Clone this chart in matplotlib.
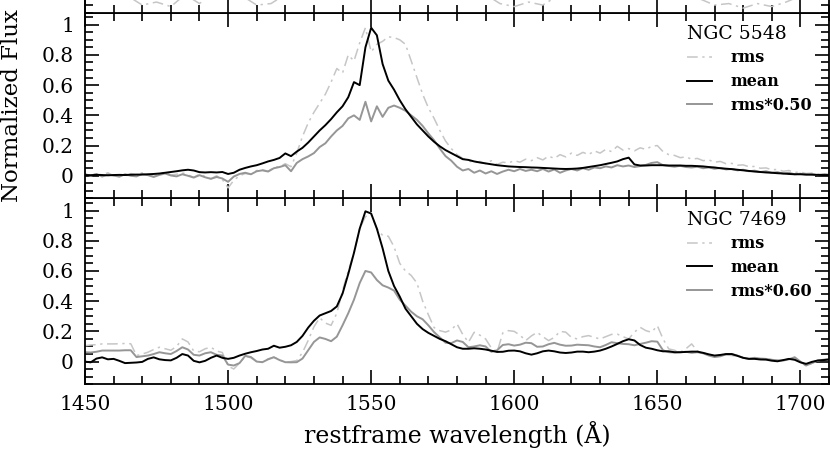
import numpy as np
import matplotlib
matplotlib.use("Agg")
import matplotlib.pyplot as plt
from matplotlib.ticker import MultipleLocator, FuncFormatter

plt.rcParams['font.family'] = ['DejaVu Serif']

# wavelength grid (2 A steps) shared by the two full panels
wave = np.arange(1450, 1711, 2)

# NGC 5548
n5548_mean = [
    0.005, 0.004, 0.006, 0.005, 0.003, 0.005, 0.006, 0.005, 0.007, 0.008,
    0.008, 0.010, 0.012, 0.015, 0.020, 0.025, 0.030, 0.036, 0.040, 0.035,
    0.024, 0.022, 0.024, 0.022, 0.025, 0.012, 0.020, 0.040, 0.052, 0.062,
    0.070, 0.082, 0.095, 0.105, 0.118, 0.148, 0.130, 0.160, 0.185, 0.220,
    0.260, 0.300, 0.335, 0.375, 0.420, 0.460, 0.520, 0.620, 0.600, 0.850,
    0.980, 0.930, 0.740, 0.630, 0.570, 0.500, 0.440, 0.390, 0.340, 0.300,
    0.260, 0.225, 0.195, 0.170, 0.150, 0.130, 0.110, 0.105, 0.095, 0.088,
    0.082, 0.076, 0.070, 0.066, 0.062, 0.060, 0.058, 0.057, 0.055, 0.054,
    0.052, 0.050, 0.048, 0.046, 0.045, 0.046, 0.048, 0.052, 0.058, 0.064,
    0.070, 0.078, 0.086, 0.095, 0.110, 0.120, 0.075, 0.068, 0.068, 0.070,
    0.070, 0.070, 0.068, 0.068, 0.068, 0.066, 0.066, 0.064, 0.062, 0.058,
    0.055, 0.050, 0.047, 0.044, 0.040, 0.036, 0.032, 0.028, 0.025, 0.022,
    0.020, 0.017, 0.015, 0.012, 0.010, 0.010, 0.008, 0.007, 0.006, 0.005,
    0.005]
n5548_rms_scaled = [
    0.010, 0.000, 0.012, -0.005, 0.008, 0.002, -0.006, 0.010, 0.000, -0.004,
    0.012, 0.004, -0.008, 0.006, 0.015, 0.002, -0.004, 0.010, 0.000, -0.012,
    0.004, -0.010, -0.020, -0.008, -0.018, -0.040, -0.005, 0.012, 0.020, 0.010,
    0.030, 0.036, 0.028, 0.050, 0.058, 0.070, 0.030, 0.085, 0.110, 0.128,
    0.150, 0.190, 0.215, 0.260, 0.300, 0.330, 0.380, 0.400, 0.370, 0.490,
    0.360, 0.460, 0.390, 0.450, 0.465, 0.450, 0.430, 0.400, 0.370, 0.330,
    0.280, 0.235, 0.180, 0.130, 0.100, 0.060, 0.035, 0.045, 0.020, 0.035,
    0.015, 0.030, 0.012, 0.028, 0.040, 0.030, 0.045, 0.032, 0.040, 0.030,
    0.045, 0.028, 0.042, 0.020, 0.035, 0.045, 0.035, 0.050, 0.040, 0.055,
    0.050, 0.062, 0.055, 0.070, 0.062, 0.068, 0.058, 0.064, 0.072, 0.085,
    0.090, 0.070, 0.065, 0.060, 0.066, 0.058, 0.055, 0.060, 0.050, 0.055,
    0.046, 0.052, 0.042, 0.045, 0.036, 0.040, 0.030, 0.034, 0.025, 0.030,
    0.020, 0.024, 0.014, 0.020, 0.010, 0.014, 0.008, 0.012, 0.004, 0.010,
    0.006]
n5548_rms = [
    0.012, 0.000, 0.015, 0.005, 0.020, 0.000, 0.010, -0.005, 0.015, 0.005,
    0.020, 0.008, -0.004, 0.012, 0.025, 0.005, 0.010, 0.020, 0.005, -0.010,
    0.010, -0.005, -0.020, 0.000, -0.025, -0.080, -0.030, 0.000, 0.015, 0.010,
    0.035, 0.040, 0.030, 0.055, 0.060, 0.080, 0.060, 0.150, 0.260, 0.350,
    0.420, 0.480, 0.540, 0.620, 0.710, 0.680, 0.800, 0.760, 0.880, 0.980,
    0.820, 0.870, 0.890, 0.920, 0.915, 0.900, 0.870, 0.760, 0.650, 0.540,
    0.450, 0.380, 0.300, 0.230, 0.180, 0.140, 0.115, 0.100, 0.085, 0.095,
    0.080, 0.100, 0.075, 0.090, 0.085, 0.100, 0.090, 0.110, 0.100, 0.120,
    0.105, 0.130, 0.115, 0.140, 0.125, 0.150, 0.135, 0.155, 0.140, 0.165,
    0.150, 0.175, 0.160, 0.195, 0.170, 0.180, 0.165, 0.185, 0.175, 0.195,
    0.200, 0.160, 0.140, 0.135, 0.120, 0.125, 0.110, 0.115, 0.100, 0.105,
    0.090, 0.095, 0.080, 0.082, 0.070, 0.072, 0.060, 0.062, 0.050, 0.052,
    0.040, 0.042, 0.030, 0.035, 0.022, 0.025, 0.015, 0.018, 0.010, 0.014,
    0.008]

# NGC 7469
n7469_mean = [
    0.000, -0.005, 0.020, 0.028, 0.015, 0.018, 0.005, -0.010, -0.008, -0.006,
    -0.002, 0.018, 0.028, 0.015, 0.010, 0.008, 0.025, 0.050, 0.040, 0.005,
    -0.005, 0.005, 0.025, 0.040, 0.025, 0.018, 0.025, 0.040, 0.052, 0.062,
    0.070, 0.080, 0.085, 0.105, 0.092, 0.098, 0.108, 0.130, 0.170, 0.225,
    0.270, 0.305, 0.320, 0.335, 0.365, 0.450, 0.580, 0.720, 0.880, 0.995,
    0.980, 0.880, 0.750, 0.600, 0.500, 0.430, 0.350, 0.300, 0.250, 0.215,
    0.190, 0.170, 0.150, 0.135, 0.115, 0.095, 0.085, 0.085, 0.088, 0.085,
    0.080, 0.072, 0.064, 0.065, 0.072, 0.073, 0.068, 0.055, 0.046, 0.055,
    0.068, 0.073, 0.068, 0.060, 0.057, 0.060, 0.066, 0.066, 0.062, 0.066,
    0.073, 0.085, 0.100, 0.117, 0.135, 0.148, 0.140, 0.110, 0.092, 0.085,
    0.075, 0.068, 0.068, 0.062, 0.062, 0.064, 0.066, 0.066, 0.058, 0.048,
    0.040, 0.044, 0.050, 0.050, 0.038, 0.025, 0.018, 0.018, 0.014, 0.013,
    0.006, 0.002, 0.010, 0.018, 0.012, -0.005, -0.015, -0.002, 0.007, 0.010,
    0.013]
n7469_rms_scaled = [
    0.062, 0.060, 0.065, 0.073, 0.073, 0.073, 0.073, 0.075, 0.075, 0.030,
    0.035, 0.040, 0.050, 0.062, 0.055, 0.050, 0.070, 0.095, 0.080, 0.045,
    0.040, 0.055, 0.062, 0.045, 0.040, -0.020, -0.026, -0.010, 0.038, 0.030,
    0.000, -0.004, 0.015, 0.029, 0.010, -0.004, -0.005, -0.004, 0.020, 0.075,
    0.130, 0.160, 0.150, 0.135, 0.165, 0.240, 0.320, 0.410, 0.520, 0.600,
    0.590, 0.540, 0.505, 0.490, 0.470, 0.410, 0.370, 0.330, 0.300, 0.280,
    0.240, 0.195, 0.160, 0.125, 0.122, 0.140, 0.130, 0.095, 0.100, 0.108,
    0.100, 0.065, 0.075, 0.110, 0.115, 0.106, 0.112, 0.125, 0.122, 0.098,
    0.100, 0.115, 0.124, 0.112, 0.105, 0.106, 0.112, 0.110, 0.108, 0.100,
    0.095, 0.110, 0.128, 0.122, 0.117, 0.115, 0.108, 0.117, 0.125, 0.135,
    0.132, 0.075, 0.062, 0.060, 0.062, 0.065, 0.058, 0.062, 0.055, 0.040,
    0.030, 0.035, 0.048, 0.050, 0.040, 0.025, 0.018, 0.025, 0.020, 0.018,
    0.012, 0.008, 0.007, 0.015, 0.029, 0.000, -0.026, -0.010, 0.007, 0.012,
    0.018]
n7469_rms = [
    0.105, 0.110, 0.112, 0.117, 0.117, 0.117, 0.118, 0.120, 0.118, 0.040,
    0.050, 0.062, 0.080, 0.095, 0.085, 0.075, 0.100, 0.150, 0.130, 0.070,
    0.065, 0.085, 0.095, 0.070, 0.060, -0.030, -0.049, -0.010, 0.035, 0.025,
    0.000, -0.004, 0.018, 0.029, 0.012, -0.004, 0.000, 0.007, 0.060, 0.140,
    0.230, 0.290, 0.255, 0.240, 0.320, 0.470, 0.600, 0.720, 0.880, 0.960,
    0.975, 0.880, 0.835, 0.830, 0.760, 0.650, 0.600, 0.570, 0.520, 0.400,
    0.310, 0.225, 0.205, 0.195, 0.210, 0.250, 0.180, 0.128, 0.194, 0.175,
    0.150, 0.090, 0.062, 0.190, 0.205, 0.200, 0.175, 0.139, 0.170, 0.194,
    0.165, 0.139, 0.160, 0.200, 0.195, 0.160, 0.150, 0.165, 0.172, 0.160,
    0.150, 0.165, 0.180, 0.182, 0.165, 0.150, 0.195, 0.227, 0.205, 0.194,
    0.238, 0.150, 0.084, 0.075, 0.062, 0.085, 0.117, 0.070, 0.058, 0.045,
    0.040, 0.042, 0.045, 0.040, 0.035, 0.028, 0.020, 0.025, 0.020, 0.018,
    0.012, 0.008, 0.007, 0.015, 0.025, 0.000, -0.030, -0.012, 0.005, 0.010,
    0.015]

# panel above (only its lower edge is inside the crop)
top_wave = np.arange(1450, 1711, 5)
top_rms = [
    -0.02, -0.03, -0.02, -0.04, -0.10, -0.08, -0.11, -0.03, -0.09, -0.02,
    -0.03, -0.04, -0.10, -0.09, -0.03, 0.05, 0.12, 0.20, 0.35, 0.50,
    0.70, 0.80, 0.60, 0.30, 0.20, 0.10, 0.05, 0.00, -0.03, -0.09,
    -0.11, -0.08, -0.10, -0.04, -0.03, -0.02, -0.03, -0.02, -0.03, -0.02,
    -0.03, -0.02, -0.03, -0.06, -0.10, -0.09, -0.12, -0.09, -0.11, -0.08,
    -0.04, -0.03, -0.03]

panels = [("NGC 5548", 0.50, n5548_rms, n5548_mean, n5548_rms_scaled),
          ("NGC 7469", 0.60, n7469_rms, n7469_mean, n7469_rms_scaled)]

C_RMS = '#c6c6c6'
C_MEAN = 'black'
C_SCL = '#969696'
DASHDOT = (0, (7, 3, 1.5, 3))

fig = plt.figure(figsize=(8.3, 4.51), dpi=100)
left, width, h = 0.1024, 0.8964, 0.412
ax_bot = fig.add_axes([left, 0.148, width, h])
ax_mid = fig.add_axes([left, 0.148 + h, width, h])
ax_top = fig.add_axes([left, 0.148 + 2 * h, width, h])

def style(ax, show_x, show_y=True):
    ax.set_xlim(1450, 1710)
    ax.set_ylim(-0.15, 1.08)
    ax.xaxis.set_major_locator(MultipleLocator(50))
    ax.xaxis.set_minor_locator(MultipleLocator(10))
    ax.yaxis.set_major_locator(MultipleLocator(0.2))
    ax.yaxis.set_minor_locator(MultipleLocator(0.05))
    ax.yaxis.set_major_formatter(FuncFormatter(lambda v, p: '%g' % round(v, 2)))
    ax.tick_params(which='both', direction='in', top=True, right=True,
                   width=1.2, labelsize=14.5, pad=8)
    ax.tick_params(which='major', length=10)
    ax.tick_params(which='minor', length=5.5)
    ax.tick_params(axis='x', labelbottom=show_x)
    ax.tick_params(axis='y', labelleft=show_y)
    for s in ax.spines.values():
        s.set_linewidth(1.3)

ax_top.plot(top_wave, top_rms, color=C_RMS, lw=1.1, ls=DASHDOT)
style(ax_top, False, False)

for ax, (name, fac, rms, mean, scl) in zip([ax_mid, ax_bot], panels):
    l_rms, = ax.plot(wave, rms, color=C_RMS, lw=1.1, ls=DASHDOT)
    l_scl, = ax.plot(wave, scl, color=C_SCL, lw=1.4)
    l_mean, = ax.plot(wave, mean, color=C_MEAN, lw=1.4)
    style(ax, ax is ax_bot)
    ax.legend([l_rms, l_mean, l_scl], ['rms', 'mean', 'rms*%.2f' % fac],
              title=name, loc='upper left', bbox_to_anchor=(0.809, 0.935),
              frameon=False, prop={'weight': 'bold', 'size': 11.5},
              title_fontsize=13.5, handlelength=1.6, handletextpad=1.1,
              labelspacing=0.42, borderpad=0, borderaxespad=0,
              alignment='left')

ax_bot.set_xlabel('restframe wavelength (Å)', fontsize=17, labelpad=5)
fig.text(0.014, 0.765, 'Normalized Flux', rotation=90, ha='center',
         va='center', fontsize=16.5)

fig.savefig('out.png', dpi=100)
